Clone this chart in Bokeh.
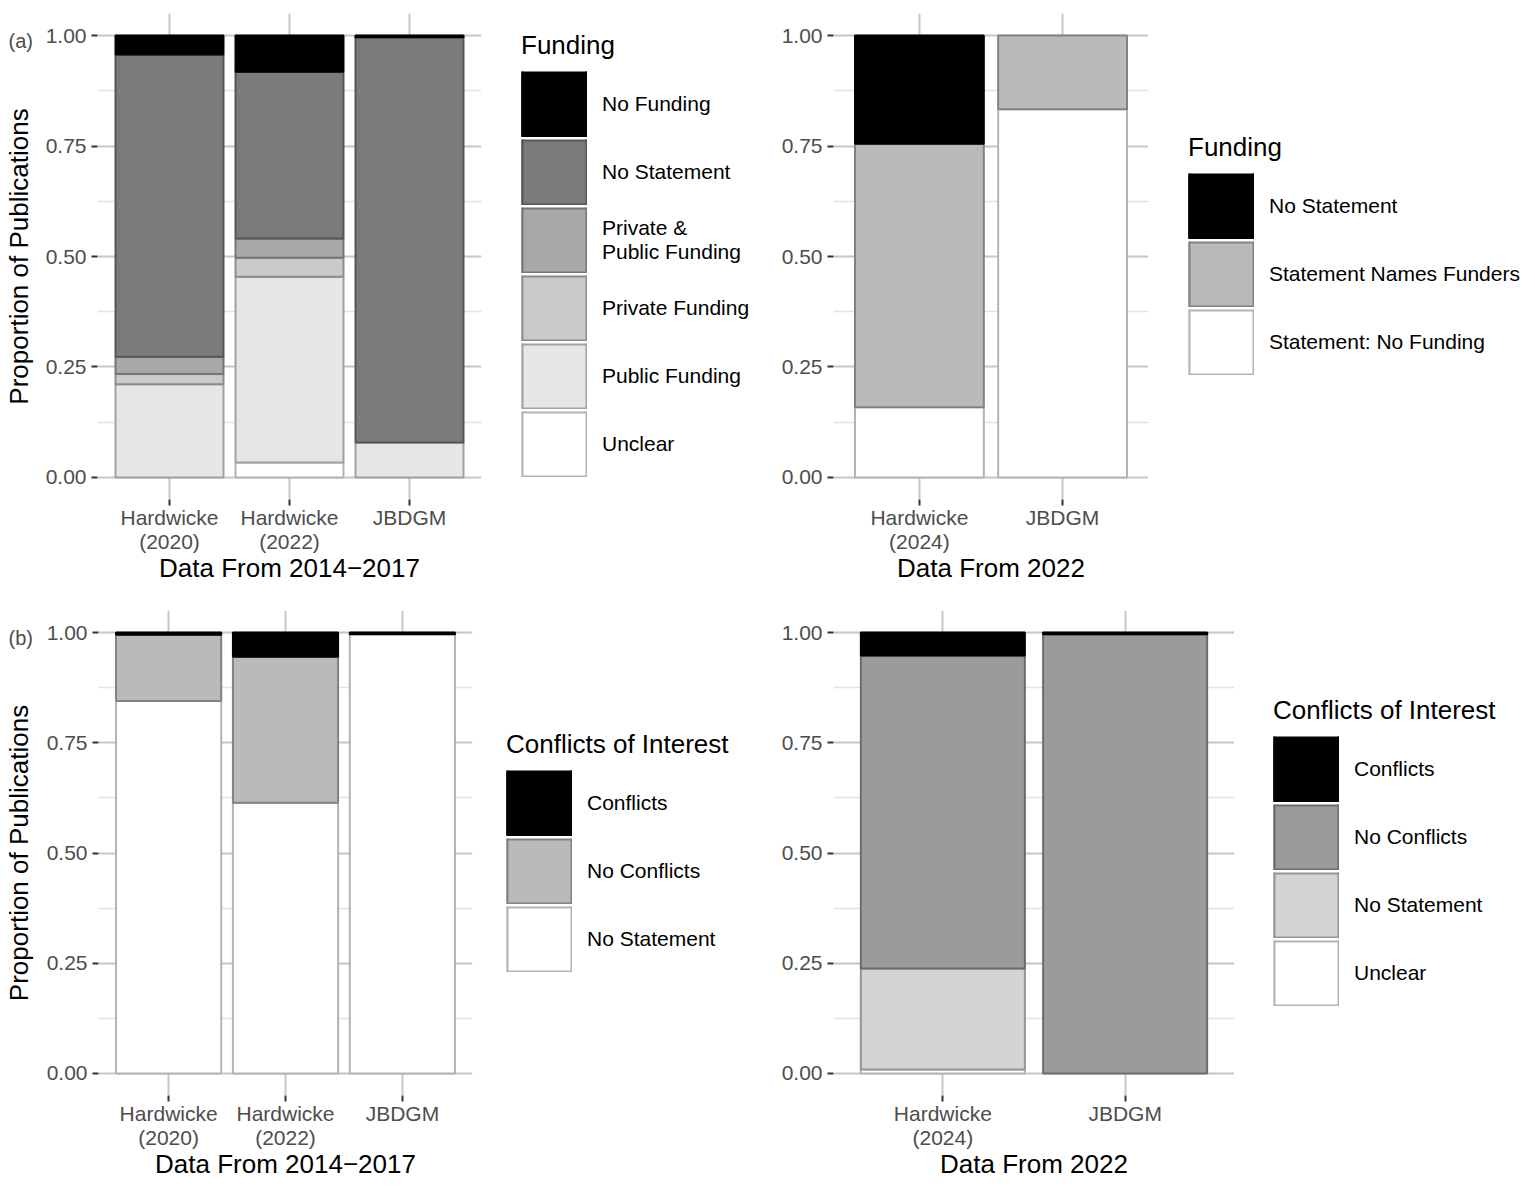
from bokeh.plotting import figure
from bokeh.models import (FactorRange, Range1d, FixedTicker, NumeralTickFormatter,
                          ColumnDataSource, Legend, LegendItem, Label)
from bokeh.layouts import column, row
from bokeh.embed import file_html
from bokeh.resources import INLINE

FONT = "Liberation Sans"

# ---------------- data ----------------
y_ticks = [0.0, 0.25, 0.5, 0.75, 1.0]
y_minor = [0.125, 0.375, 0.625, 0.875]

# (a) left: Funding, data from 2014-2017
a1_cats = ["Hardwicke\n(2020)", "Hardwicke\n(2022)", "JBDGM"]
a1_levels = ["No Funding", "No Statement", "Private &\nPublic Funding",
             "Private Funding", "Public Funding", "Unclear"]
a1_no_funding = [0.043, 0.082, 0.004]
a1_no_statement = [0.684, 0.377, 0.917]
a1_private_public = [0.039, 0.044, 0.0]
a1_private = [0.023, 0.043, 0.0]
a1_public = [0.211, 0.420, 0.079]
a1_unclear = [0.0, 0.034, 0.0]
a1_title = "Funding"
a1_xlabel = "Data From 2014\u22122017"

# (a) right: Funding, data from 2022
a2_cats = ["Hardwicke\n(2024)", "JBDGM"]
a2_levels = ["No Statement", "Statement Names Funders", "Statement: No Funding"]
a2_no_statement = [0.245, 0.0]
a2_names_funders = [0.596, 0.167]
a2_no_funding = [0.159, 0.833]
a2_title = "Funding"
a2_xlabel = "Data From 2022"

# (b) left: Conflicts of interest, data from 2014-2017
b1_cats = ["Hardwicke\n(2020)", "Hardwicke\n(2022)", "JBDGM"]
b1_levels = ["Conflicts", "No Conflicts", "No Statement"]
b1_conflicts = [0.005, 0.055, 0.004]
b1_no_conflicts = [0.150, 0.331, 0.0]
b1_no_statement = [0.845, 0.614, 0.996]
b1_title = "Conflicts of Interest"
b1_xlabel = "Data From 2014\u22122017"

# (b) right: Conflicts of interest, data from 2022
b2_cats = ["Hardwicke\n(2024)", "JBDGM"]
b2_levels = ["Conflicts", "No Conflicts", "No Statement", "Unclear"]
b2_conflicts = [0.052, 0.004]
b2_no_conflicts = [0.710, 0.996]
b2_no_statement = [0.229, 0.0]
b2_unclear = [0.009, 0.0]
b2_title = "Conflicts of Interest"
b2_xlabel = "Data From 2022"

y_title = "Proportion of Publications"

# ---------------- styles ----------------
fills6 = ["#000000", "#7B7B7B", "#A8A8A8", "#CACACA", "#E6E6E6", "#FFFFFF"]
lines6 = ["#000000", "#565656", "#767676", "#8D8D8D", "#A1A1A1", "#B3B3B3"]
fills3 = ["#000000", "#BABABA", "#FFFFFF"]
lines3 = ["#000000", "#828282", "#B3B3B3"]
fills4 = ["#000000", "#9B9B9B", "#D4D4D4", "#FFFFFF"]
lines4 = ["#000000", "#6C6C6C", "#949494", "#B3B3B3"]

KEY = 66  # legend key size (px)


def make_panel(cats, levels, series, fills, lines, xlabel,
               fw, fh, left, right, top, bottom, ylabel=None, ylabel_standoff=9,
               tag=None, tag_pos=None):
    p = figure(frame_width=fw, frame_height=fh, output_backend="svg", toolbar_location=None,
               x_range=FactorRange(factors=cats, range_padding=0.1, range_padding_units="absolute"),
               y_range=Range1d(-0.05, 1.05),
               min_border_left=left, min_border_right=right,
               min_border_top=top, min_border_bottom=bottom)
    p.outline_line_color = None
    p.background_fill_color = "white"
    p.border_fill_color = "white"

    n = len(cats)
    base = [0.0] * n
    for lvl, vals, fc, lc in reversed(list(zip(levels, series, fills, lines))):
        xs, bs, ts = [], [], []
        for i, v in enumerate(vals):
            if v > 0:
                xs.append(cats[i])
                bs.append(base[i])
                ts.append(base[i] + v)
            base[i] += v
        src = ColumnDataSource(dict(x=xs, bottom=bs, top=ts))
        p.vbar(x="x", bottom="bottom", top="top", width=0.9, source=src,
               fill_color=fc, line_color=lc, line_width=2)

    # axes
    p.yaxis.ticker = FixedTicker(ticks=y_ticks, minor_ticks=y_minor)
    p.yaxis.formatter = NumeralTickFormatter(format="0.00")
    for ax in (p.xaxis, p.yaxis):
        ax.axis_line_color = None
        ax.major_tick_line_color = "#333333"
        ax.major_tick_line_width = 2
        ax.major_tick_out = 6
        ax.major_tick_in = 0
        ax.minor_tick_line_color = None
        ax.major_label_text_font = FONT
        ax.major_label_text_font_size = "21px"
        ax.major_label_text_color = "#4D4D4D"
        ax.major_label_standoff = 5
        ax.axis_label_text_font = FONT
        ax.axis_label_text_font_size = "26px"
        ax.axis_label_text_font_style = "normal"
        ax.axis_label_text_color = "black"
    p.xaxis.major_label_text_line_height = 1.05
    p.xaxis.major_label_standoff = 0
    p.xaxis.axis_label = xlabel
    p.xaxis.axis_label_standoff = -3
    if ylabel:
        p.yaxis.axis_label = ylabel
        p.yaxis.axis_label_standoff = ylabel_standoff

    # grid
    p.xgrid.grid_line_color = "#C6C6C6"
    p.xgrid.grid_line_width = 2
    p.ygrid.grid_line_color = "#C6C6C6"
    p.ygrid.grid_line_width = 2
    p.ygrid.minor_grid_line_color = "#E2E2E2"
    p.ygrid.minor_grid_line_width = 1.5

    if tag:
        # panel tag, placed via the narrow right border so it does not shift the axes
        p.add_layout(Label(x=tag_pos[0], y=tag_pos[1], x_units="screen", y_units="screen",
                           text=tag, text_font=FONT, text_font_size="20px",
                           text_color="#4D4D4D", text_baseline="middle", text_align="left"),
                     "right")
    return p


def make_legend(levels, fills, lines, title, width, height, loc):
    q = figure(width=width, height=height, output_backend="svg", toolbar_location=None,
               x_axis_location=None, y_axis_location=None,
               x_range=Range1d(0, 1), y_range=Range1d(0, 1),
               min_border_left=0, min_border_right=0, min_border_top=0, min_border_bottom=0)
    q.outline_line_color = None
    q.grid.visible = False
    items = []
    for lvl, fc, lc in zip(levels, fills, lines):
        # key swatch = outlined square built from wide strokes (lines lie outside the frame)
        kx, ky = [-10, -9], [-10, -10]
        r_out = q.line(kx, ky, line_color=lc, line_width=KEY)
        r_in = q.line(kx, ky, line_color=fc, line_width=KEY - 4)
        r_side = q.line(kx, ky, line_color=lc, line_width=KEY, line_dash="2 62 2")
        items.append(LegendItem(label=lvl, renderers=[r_out, r_in, r_side]))
    legend = Legend(items=items, location=loc, title=title,
                    glyph_width=KEY, glyph_height=KEY, spacing=2, label_standoff=15,
                    label_text_font=FONT, label_text_font_size="21px", label_text_color="black",
                    label_text_line_height=1.05,
                    title_text_font=FONT, title_text_font_size="26px",
                    title_text_font_style="normal", title_text_color="black",
                    title_standoff=10, border_line_color=None, background_fill_alpha=0,
                    margin=0, padding=0)
    q.add_layout(legend, "center")
    return q


p1 = make_panel(a1_cats, a1_levels,
                [a1_no_funding, a1_no_statement, a1_private_public, a1_private, a1_public, a1_unclear],
                fills6, lines6, a1_xlabel, 384, 486, 89, 30, 13, 97,
                ylabel=y_title, ylabel_standoff=9, tag="(a)", tag_pos=(-473, 459))
l1 = make_legend(a1_levels, fills6, lines6, a1_title, 254, 596, (10, 22))
p2 = make_panel(a2_cats, a2_levels,
                [a2_no_statement, a2_names_funders, a2_no_funding],
                fills3, lines3, a2_xlabel, 315, 486, 68, 0, 13, 97)
l2 = make_legend(a2_levels, fills3, lines3, a2_title, 379, 596, (40, 124))
p3 = make_panel(b1_cats, b1_levels,
                [b1_conflicts, b1_no_conflicts, b1_no_statement],
                fills3, lines3, b1_xlabel, 374, 485, 90, 30, 14, 91,
                ylabel=y_title, ylabel_standoff=10, tag="(b)", tag_pos=(-464, 458))
l3 = make_legend(b1_levels, fills3, lines3, b1_title, 263, 590, (4, 123))
p4 = make_panel(b2_cats, b2_levels,
                [b2_conflicts, b2_no_conflicts, b2_no_statement, b2_unclear],
                fills4, lines4, b2_xlabel, 401, 485, 68, 0, 14, 91)
l4 = make_legend(b2_levels, fills4, lines4, b2_title, 293, 590, (39, 89))

layout = column(row(p1, l1, p2, l2), row(p3, l3, p4, l4))
open("out.html", "w").write(file_html(layout, INLINE))
